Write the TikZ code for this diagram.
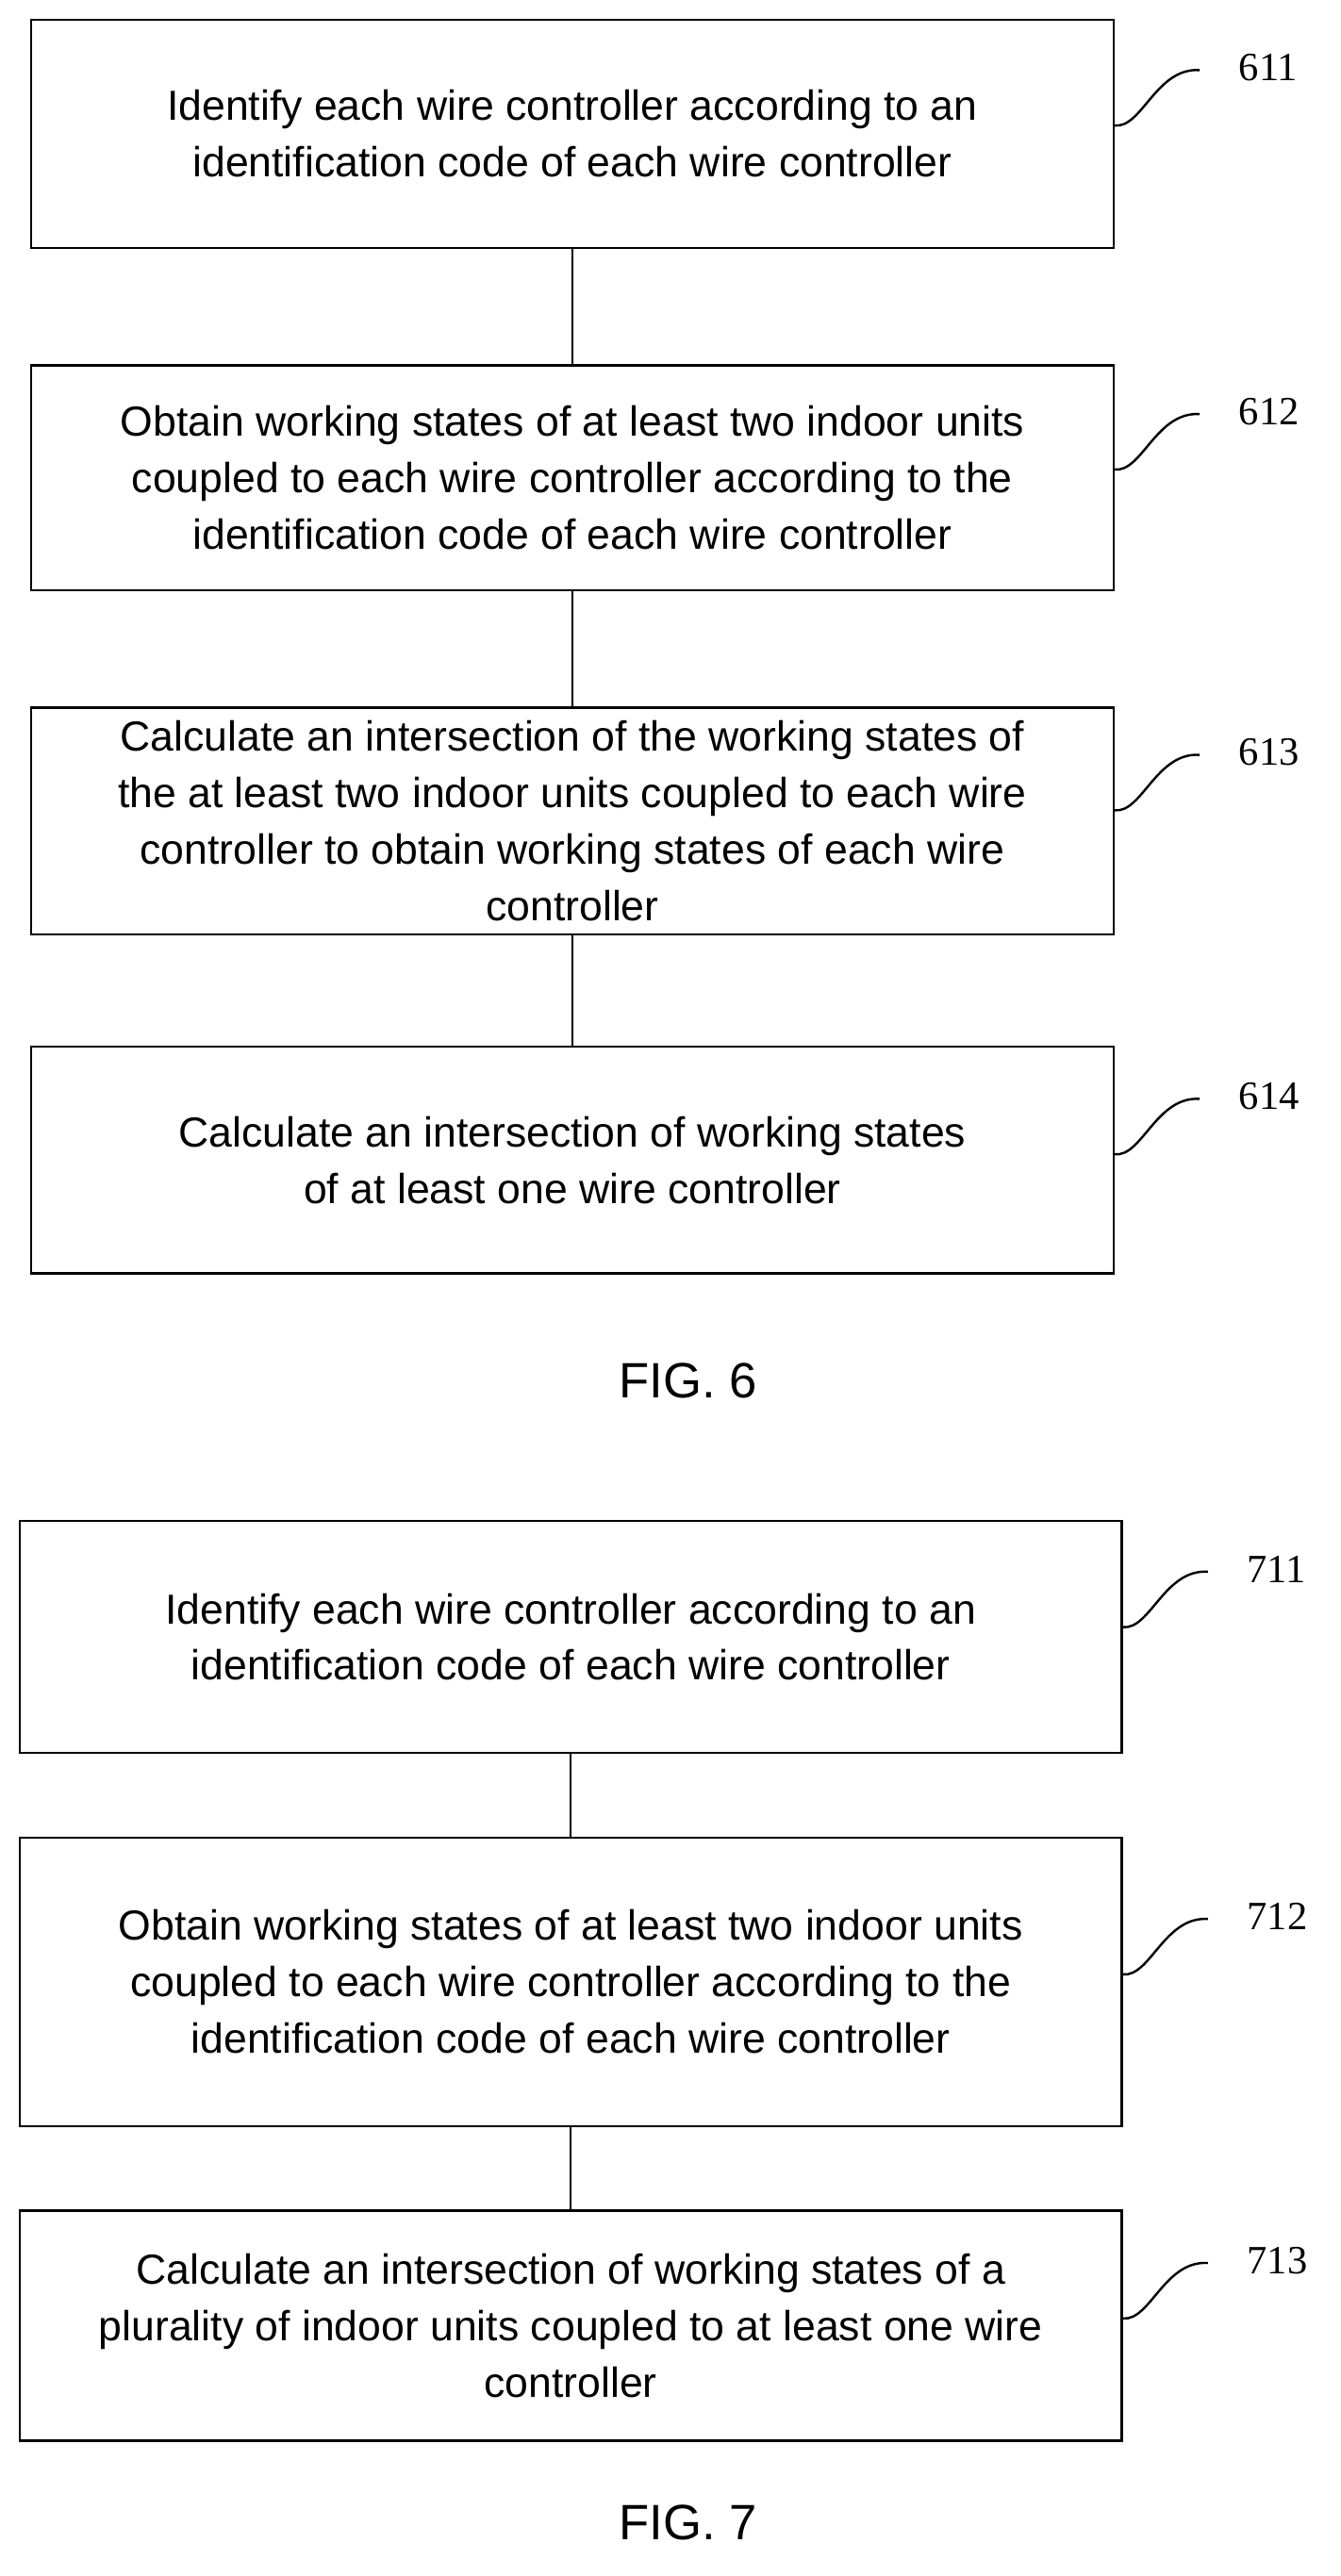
\documentclass[tikz,border=0pt]{standalone}
\usepackage{fontspec}
\setmainfont{Liberation Sans}
\newfontfamily\numfont{Liberation Serif}
\begin{document}
\begin{tikzpicture}[x=0.03cm,y=-0.03cm,
 box/.style={draw,line width=1.2pt,inner sep=0pt,align=center,font=\fontsize{22}{29.5}\selectfont},
 lbl/.style={font=\numfont\fontsize{21}{25}\selectfont,anchor=west},
 lead/.style={line width=1.2pt}]
\useasboundingbox (0,0) rectangle (822,1580);
\def\bx#1#2#3#4#5#6{\node[box,minimum width={(#3-#2)*0.03cm},minimum height={(#5-#4)*0.03cm}] (#1) at ({(#2+#3)/2},{(#4+#5)/2}) {#6};}
\bx{a1}{19}{683}{12}{152}{Identify each wire controller according to an\\identification code of each wire controller}
\bx{a2}{19}{683}{224}{362}{Obtain working states of at least two indoor units\\coupled to each wire controller according to the\\identification code of each wire controller}
\bx{a3}{19}{683}{434}{573}{Calculate an intersection of the working states of\\the at least two indoor units coupled to each wire\\controller to obtain working states of each wire\\controller}
\bx{a4}{19}{683}{642}{781}{Calculate an intersection of working states\\of at least one wire controller}
\node[font=\fontsize{26}{30}\selectfont] (f6) at (422,847) {FIG. 6};
\bx{b1}{12}{688}{933}{1075}{Identify each wire controller according to an\\identification code of each wire controller}
\bx{b2}{12}{688}{1127}{1304}{Obtain working states of at least two indoor units\\coupled to each wire controller according to the\\identification code of each wire controller}
\bx{b3}{12}{688}{1356}{1497}{Calculate an intersection of working states of a\\plurality of indoor units coupled to at least one wire\\controller}
\node[font=\fontsize{26}{30}\selectfont] (f7) at (422,1547) {FIG. 7};
\foreach \u/\v in {a1/a2,a2/a3,a3/a4,b1/b2,b2/b3} \draw[lead] (\u.south)--(\v.north);
\foreach \n/\t/\y in {a1/611/47,a2/612/258,a3/613/467,a4/614/678,b1/711/968,b2/712/1181,b3/713/1392}{
 \coordinate (s\t) at ([yshift={-(\y+30)*0.03cm}]\n.east |- 0,0);
 \coordinate (e\t) at ([xshift=52*0.03cm,yshift={-(\y-4)*0.03cm}]\n.east |- 0,0);
 \draw[lead] (s\t) .. controls ([xshift=0.5cm,yshift=-0.05cm]s\t) and ([xshift=-0.8cm,yshift=0.05cm]e\t) .. (e\t);
 \node[lbl] (l\t) at ([xshift=0.6cm,yshift=0.05cm]e\t) {\t};
}
\end{tikzpicture}
\end{document}
